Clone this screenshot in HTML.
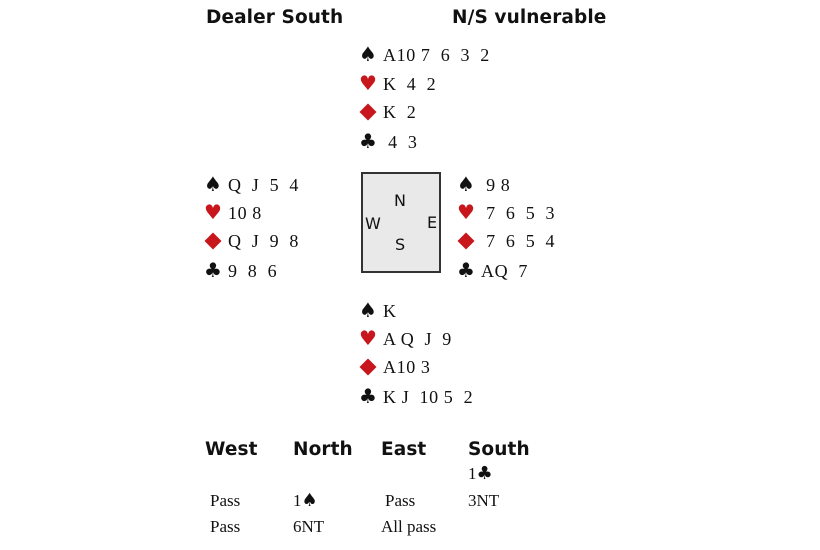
<!DOCTYPE html>
<html><head><style>
body{margin:0;width:820px;height:550px;background:#fff;position:relative;overflow:hidden;font-family:"Liberation Serif","DejaVu Serif",serif;color:#111}
.a{position:absolute;white-space:pre;line-height:20px}
.h{font-family:"DejaVu Sans","Liberation Sans",sans-serif;font-weight:bold;font-size:18.5px;color:#111;letter-spacing:0.1px}
.r{font-size:18px;letter-spacing:0.6px}
.s{font-family:"DejaVu Sans",sans-serif;font-size:20px;display:inline-block;width:24px;letter-spacing:0}
.red{color:#c8161d}
.d{display:inline-block;width:24px;position:relative;height:20px;vertical-align:top}
.d:before{content:"";position:absolute;left:3px;top:4px;width:12px;height:12px;background:#c8161d;transform:rotate(45deg)}
.box{position:absolute;left:361px;top:172px;width:76px;height:97px;background:#e9e9e9;border:2px solid #333}
.c{position:absolute;font-family:"DejaVu Sans","Liberation Sans",sans-serif;font-size:16px;line-height:16px}
.b{font-size:17px}
.b .m{font-family:"DejaVu Sans",sans-serif;font-size:18px}
</style></head><body>
<div class="a h" style="left:206px;top:8px">Dealer South</div>
<div class="a h" style="left:452px;top:8px">N/S vulnerable</div>

<div class="a r" style="left:359px;top:44px"><span class="s">♠</span>A10 7  6  3  2</div>
<div class="a r" style="left:359px;top:73px"><span class="s red">♥</span>K  4  2</div>
<div class="a r" style="left:359px;top:102px"><span class="d"></span>K  2</div>
<div class="a r" style="left:359px;top:131px"><span class="s">♣</span> 4  3</div>

<div class="a r" style="left:204px;top:174px"><span class="s">♠</span>Q  J  5  4</div>
<div class="a r" style="left:204px;top:202px"><span class="s red">♥</span>10 8</div>
<div class="a r" style="left:204px;top:231px"><span class="d"></span>Q  J  9  8</div>
<div class="a r" style="left:204px;top:260px"><span class="s">♣</span>9  8  6</div>

<div class="a r" style="left:457px;top:174px"><span class="s">♠</span> 9 8</div>
<div class="a r" style="left:457px;top:202px"><span class="s red">♥</span> 7  6  5  3</div>
<div class="a r" style="left:457px;top:231px"><span class="d"></span> 7  6  5  4</div>
<div class="a r" style="left:457px;top:260px"><span class="s">♣</span>AQ  7</div>

<div class="box"></div>
<div class="c" style="left:394px;top:193px">N</div>
<div class="c" style="left:365px;top:216px">W</div>
<div class="c" style="left:427px;top:215px">E</div>
<div class="c" style="left:395px;top:237px">S</div>

<div class="a r" style="left:359px;top:300px"><span class="s">♠</span>K</div>
<div class="a r" style="left:359px;top:328px"><span class="s red">♥</span>A Q  J  9</div>
<div class="a r" style="left:359px;top:357px"><span class="d"></span>A10 3</div>
<div class="a r" style="left:359px;top:386px"><span class="s">♣</span>K J  10 5  2</div>

<div class="a h" style="left:205px;top:440px">West</div>
<div class="a h" style="left:293px;top:440px">North</div>
<div class="a h" style="left:381px;top:440px">East</div>
<div class="a h" style="left:468px;top:440px">South</div>
<div class="a b" style="left:468px;top:464px">1<span class="m">♣</span></div>
<div class="a b" style="left:210px;top:491px">Pass</div>
<div class="a b" style="left:293px;top:491px">1<span class="m">♠</span></div>
<div class="a b" style="left:385px;top:491px">Pass</div>
<div class="a b" style="left:468px;top:491px">3NT</div>
<div class="a b" style="left:210px;top:517px">Pass</div>
<div class="a b" style="left:293px;top:517px">6NT</div>
<div class="a b" style="left:381px;top:517px">All pass</div>
</body></html>
